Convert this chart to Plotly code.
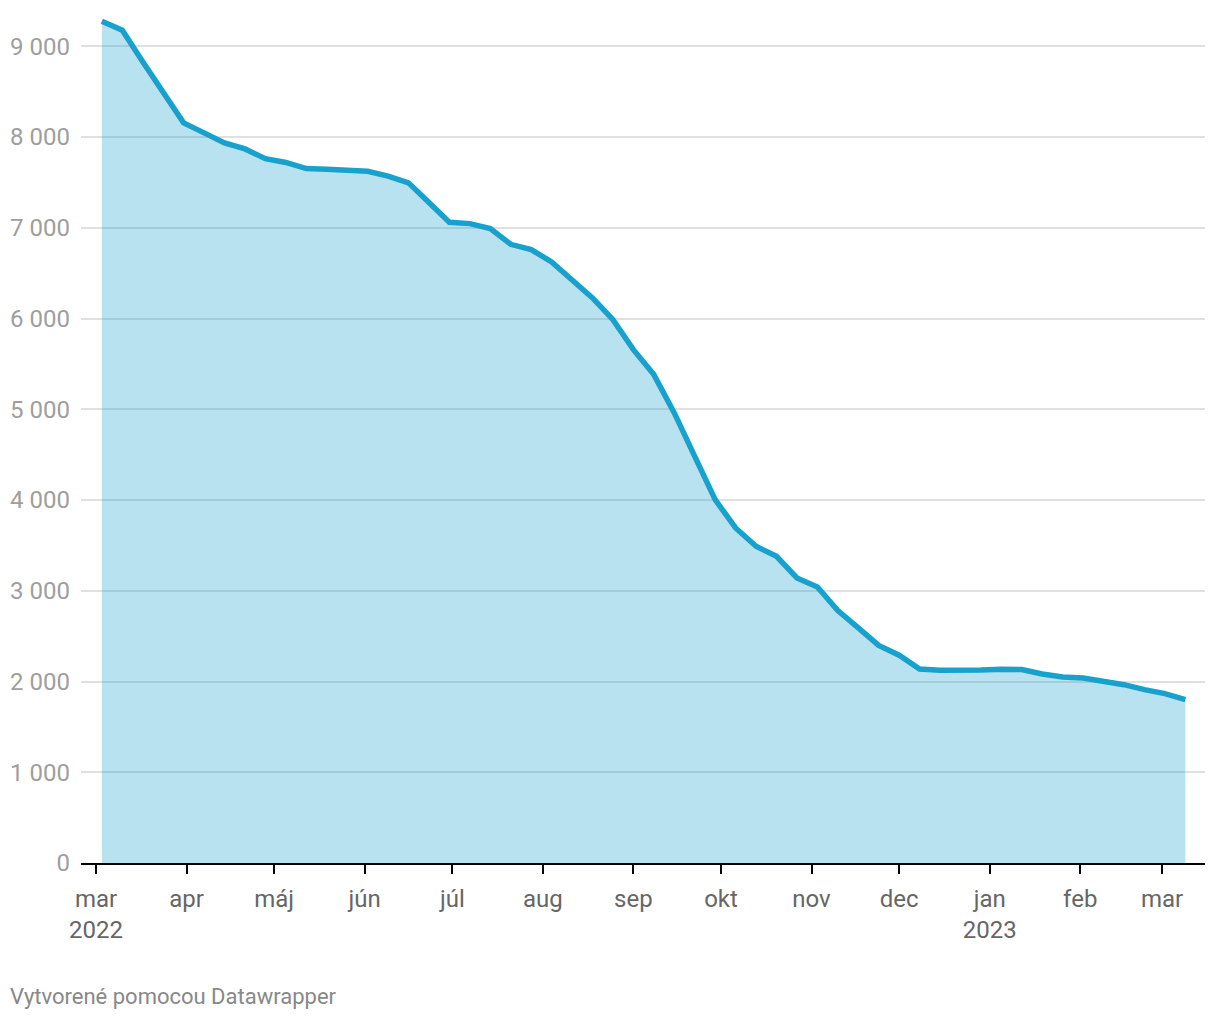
import plotly.graph_objects as go
import pandas as pd

start_date = "2022-03-03"
values = [9276, 9177, 8830, 8480, 8156, 8046, 7936, 7869, 7762, 7720,
          7652, 7645, 7634, 7622, 7570, 7495, 7278, 7061, 7046, 6991,
          6818, 6760, 6624, 6429, 6227, 5988, 5657, 5382, 4960, 4481,
          4004, 3692, 3490, 3379, 3141, 3042, 2781, 2590, 2398, 2290,
          2138, 2123, 2120, 2127, 2134, 2131, 2083, 2050, 2039, 2006,
          1965, 1910, 1866, 1800]
dates = pd.date_range(start_date, periods=len(values), freq="7D")

x_tickvals = ["2022-03-01", "2022-04-01", "2022-05-01", "2022-06-01", "2022-07-01",
              "2022-08-01", "2022-09-01", "2022-10-01", "2022-11-01", "2022-12-01",
              "2023-01-01", "2023-02-01", "2023-03-01"]
x_ticktext = ["mar<br>2022", "apr", "máj", "jún", "júl", "aug", "sep", "okt",
              "nov", "dec", "jan<br>2023", "feb", "mar"]
y_tickvals = [0, 1000, 2000, 3000, 4000, 5000, 6000, 7000, 8000, 9000]
y_ticktext = ["0", "1 000", "2 000", "3 000", "4 000", "5 000", "6 000",
              "7 000", "8 000", "9 000"]

fig = go.Figure()
fig.add_trace(go.Scatter(
    x=dates, y=values, mode="lines", fill="tozeroy",
    fillcolor="rgba(24,160,204,0.3)",
    line=dict(color="#18a1cd", width=5.5),
    hoverinfo="x+y",
))

W, H = 1212, 1012
L, R, T, B = 73, 15, 2, 157
PW, PH = W - L - R, H - T - B

fig.update_layout(
    width=W, height=H,
    margin=dict(l=L, r=R, t=T, b=B),
    paper_bgcolor="white", plot_bgcolor="white",
    font=dict(family="Roboto", size=24, color="#666666"),
    showlegend=False,
    xaxis=dict(
        range=["2022-02-23 20:38", "2023-03-15 17:20"],
        tickvals=x_tickvals, ticktext=x_ticktext,
        showgrid=False, zeroline=False,
        showline=True, linecolor="#000000", linewidth=2,
        ticks="outside", ticklen=9, tickwidth=2, tickcolor="#000000",
        tickfont=dict(family="Roboto", size=24, color="#666666"),
        ticklabelstandoff=4,
    ),
    yaxis=dict(
        range=[0, 9400],
        tickvals=y_tickvals, ticktext=y_ticktext,
        showgrid=True, gridcolor="#e0e0e0", gridwidth=1.5,
        zeroline=False, showline=False, ticks="",
        tickfont=dict(family="Roboto", size=24, color="#9e9e9e"),
        ticklabelstandoff=10,
    ),
    annotations=[dict(
        text="Vytvorené pomocou Datawrapper", xref="paper", yref="paper",
        x=-L / PW, y=-(989 - (H - B)) / PH, xanchor="left", yanchor="middle",
        showarrow=False, font=dict(family="Roboto", size=22, color="#888888"),
    )],
)

fig.write_html("out.html")
